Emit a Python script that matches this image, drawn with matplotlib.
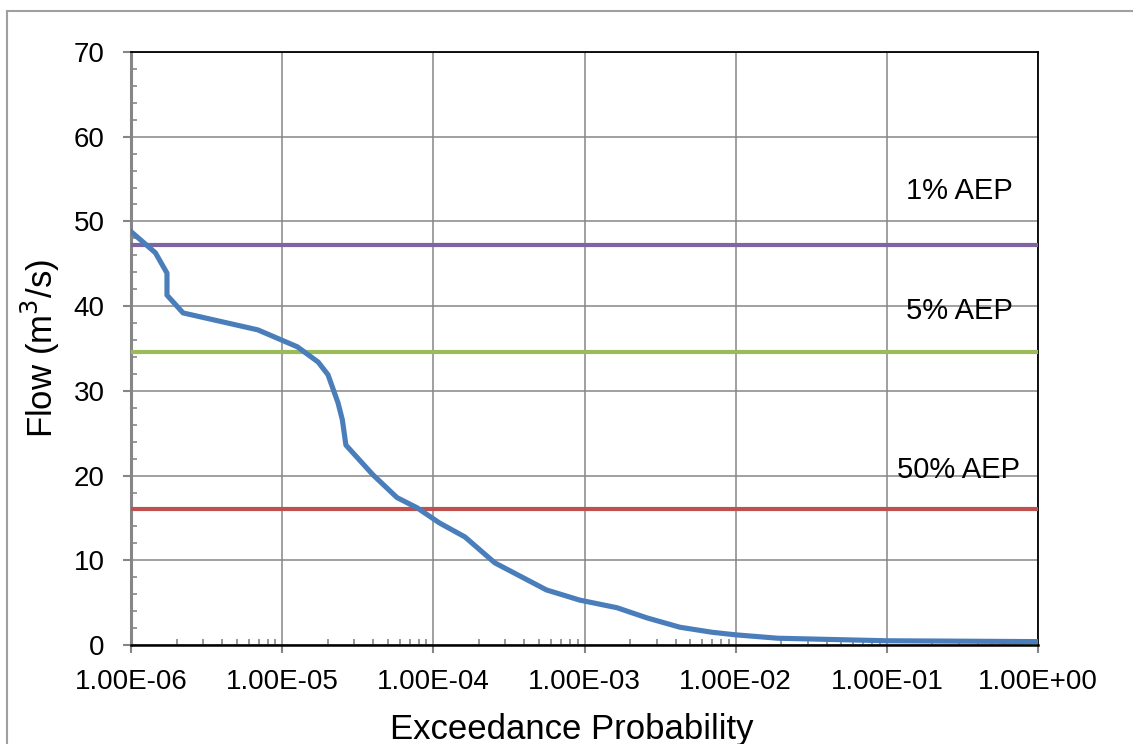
import matplotlib
matplotlib.use("Agg")
import matplotlib.pyplot as plt
from matplotlib.ticker import LogLocator, MultipleLocator, FixedLocator, FuncFormatter
from matplotlib.lines import Line2D

plt.rcParams['font.family'] = ['Liberation Sans', 'DejaVu Sans']

# ---- data ----
prob = [1e-6, 1.45e-6, 1.73e-6, 1.73e-6, 2.21e-6, 6.9e-6, 1.26e-5, 1.73e-5, 2.01e-5,
        2.34e-5, 2.5e-5, 2.64e-5, 3.98e-5, 5.75e-5, 7.8e-5, 1.1e-4, 1.62e-4, 2.55e-4,
        5.6e-4, 9.3e-4, 1.64e-3, 2.59e-3, 4.27e-3, 7.0e-3, 1.0e-2, 1.9e-2, 1e-1, 1.0]
flow = [48.8, 46.3, 43.9, 41.3, 39.2, 37.2, 35.2, 33.4, 31.9,
        28.6, 26.6, 23.6, 20.1, 17.4, 16.2, 14.4, 12.75, 9.7,
        6.5, 5.3, 4.4, 3.2, 2.1, 1.5, 1.2, 0.8, 0.5, 0.4]
aep_labels = ["1% AEP", "5% AEP", "50% AEP"]
aep_flows = [47.2, 34.6, 16.0]
aep_colors = ["#8064A2", "#9BBB59", "#C0504D"]
aep_label_y = [53.6, 39.4, 20.6]
x_tick_vals = [1e-6, 1e-5, 1e-4, 1e-3, 1e-2, 1e-1, 1e0]
x_tick_labels = ["1.00E-06", "1.00E-05", "1.00E-04", "1.00E-03", "1.00E-02", "1.00E-01", "1.00E+00"]

fig = plt.figure(figsize=(11.33, 7.44), dpi=100)
ax = fig.add_axes([131/1133, 1-645/744, (1038-131)/1133, (645-52)/744])

grid_c = "#868686"
for yv, c in zip(aep_flows, aep_colors):
    ax.axhline(yv, color=c, lw=3.0, zorder=3, solid_capstyle='butt')
ax.plot(prob, flow, color="#4A7EBB", lw=3.7, zorder=4, solid_joinstyle='round')

for lab, yl in zip(aep_labels, aep_label_y):
    ax.text(0.3, yl, lab, ha='center', va='center', fontsize=21, zorder=5)

ax.set_xscale('log')
ax.set_xlim(1e-6, 1)
ax.set_ylim(0, 70)
ax.xaxis.set_major_locator(FixedLocator(x_tick_vals))
ax.xaxis.set_major_formatter(FuncFormatter(lambda v, p: x_tick_labels[x_tick_vals.index(min(x_tick_vals, key=lambda t: abs(t - v) / t))]))
ax.xaxis.set_minor_locator(LogLocator(base=10, subs=range(2, 10), numticks=20))
ax.xaxis.set_minor_formatter(FuncFormatter(lambda v, p: ""))
ax.yaxis.set_major_locator(MultipleLocator(10))
ax.yaxis.set_minor_locator(MultipleLocator(2))

ax.grid(True, which='major', color=grid_c, lw=1.1, zorder=1)
ax.set_axisbelow(True)

ax.tick_params(axis='both', which='major', direction='out', length=6, width=1.5,
               color=grid_c, labelsize=20)
ax.tick_params(axis='y', which='major', pad=13)
ax.tick_params(axis='x', which='major', pad=11)
ax.tick_params(axis='both', which='minor', direction='in', length=4, width=1.2, color=grid_c)

for s in ['top', 'right']:
    ax.spines[s].set_color('black')
    ax.spines[s].set_linewidth(1.3)
ax.spines['bottom'].set_color('black')
ax.spines['bottom'].set_linewidth(1.8)
ax.spines['left'].set_color(grid_c)
ax.spines['left'].set_linewidth(2.2)

ax.set_xlabel("Exceedance Probability", fontsize=25, labelpad=13)
ax.xaxis.label.set_x(0.486)
ax.set_ylabel("Flow (m$^3$/s)", fontsize=25, labelpad=8)

# outer chart border (top and left visible)
fig.add_artist(Line2D([7/1133, 1.0], [1-11/744, 1-11/744], color="#A0A0A0", lw=1.5, transform=fig.transFigure))
fig.add_artist(Line2D([7/1133, 7/1133], [0, 1-11/744], color="#A0A0A0", lw=1.5, transform=fig.transFigure))

fig.savefig("out.png", dpi=100)
